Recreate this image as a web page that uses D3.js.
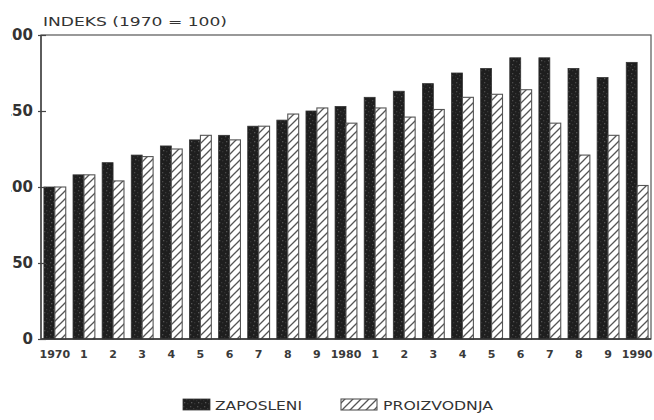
<!DOCTYPE html>
<html>
<head>
<meta charset="utf-8">
<script src="https://cdn.jsdelivr.net/npm/d3@7/dist/d3.min.js"></script>
<style>
  html, body { margin: 0; padding: 0; background: #fff; }
  svg { display: block; }
  text { font-family: "DejaVu Sans", sans-serif; fill: #2a2a2a; }
</style>
</head>
<body>
<svg id="chart" width="654" height="420"></svg>
<script>
// ---- data ----
const years = ["1970","1971","1972","1973","1974","1975","1976","1977","1978","1979",
               "1980","1981","1982","1983","1984","1985","1986","1987","1988","1989","1990"];
const yearLabels = ["1970","1","2","3","4","5","6","7","8","9",
                    "1980","1","2","3","4","5","6","7","8","9","1990"];
const zaposleni   = [100,108,116,121,127,131,134,140,144,150,153,159,163,168,175,178,185,185,178,172,182];
const proizvodnja = [100,108,104,120,125,134,131,140,148,152,142,152,146,151,159,161,164,142,121,134,101];
const yTicks = [0, 50, 100, 150, 200];
const seriesNames = ["ZAPOSLENI", "PROIZVODNJA"];
const titleText = "INDEKS  (1970 = 100)";

// ---- layout ----
const svg = d3.select("#chart");
const pL = 41, pR = 651, pT = 35, pB = 339;

const x = d3.scaleBand().domain(years).range([pL, pR]).paddingInner(0.25).paddingOuter(0.1);
const xs = d3.scaleBand().domain([0, 1]).range([0, x.bandwidth()]);
const y = d3.scaleLinear().domain([0, 200]).range([pB, pT]);

// ---- patterns ----
const defs = svg.append("defs");
const dark = defs.append("pattern").attr("id", "darkfill")
  .attr("patternUnits", "userSpaceOnUse").attr("width", 7).attr("height", 9);
dark.append("rect").attr("width", 7).attr("height", 9).attr("fill", "#1e1e1e");
[[1,1,"#4a4a4a"],[4,3,"#3a3a3a"],[2,6,"#555"],[5,7,"#333"],[0,4,"#2e2e2e"]].forEach(([a,b,c]) =>
  dark.append("rect").attr("x", a).attr("y", b).attr("width", 1.3).attr("height", 1.3).attr("fill", c));

const hatch = defs.append("pattern").attr("id", "hatch")
  .attr("patternUnits", "userSpaceOnUse").attr("width", 8).attr("height", 8);
hatch.append("rect").attr("width", 8).attr("height", 8).attr("fill", "#fff");
hatch.append("path").attr("d", "M-2,2 L2,-2 M0,8 L8,0 M6,10 L10,6")
  .attr("stroke", "#555").attr("stroke-width", 1.3);

defs.append("clipPath").attr("id", "labelclip")
  .append("rect").attr("x", 11).attr("y", 0).attr("width", 643).attr("height", 420);

// ---- frame ----
svg.append("rect").attr("x", pL).attr("y", pT)
  .attr("width", pR - pL).attr("height", pB - pT)
  .attr("fill", "none").attr("stroke", "#555").attr("stroke-width", 1.2);

// ---- bars ----
const g = svg.append("g");
years.forEach((yr, i) => {
  const x0 = x(yr);
  g.append("rect")
    .attr("x", x0 + xs(0)).attr("y", y(zaposleni[i]))
    .attr("width", xs.bandwidth()).attr("height", y(0) - y(zaposleni[i]))
    .attr("fill", "url(#darkfill)").attr("stroke", "#333").attr("stroke-width", 0.8);
  g.append("rect")
    .attr("x", x0 + xs(1)).attr("y", y(proizvodnja[i]))
    .attr("width", xs.bandwidth()).attr("height", y(0) - y(proizvodnja[i]))
    .attr("fill", "url(#hatch)").attr("stroke", "#555").attr("stroke-width", 1.1);
});

// ---- axes ----
svg.append("line").attr("x1", pL).attr("x2", pR).attr("y1", pB).attr("y2", pB)
  .attr("stroke", "#333").attr("stroke-width", 1.6);
svg.append("line").attr("x1", pL).attr("x2", pL).attr("y1", pT).attr("y2", pB)
  .attr("stroke", "#444").attr("stroke-width", 1.4);

const yAxis = d3.axisLeft(y).tickValues(yTicks).tickSize(4).tickPadding(5);
const yWrap = svg.append("g").attr("clip-path", "url(#labelclip)");
const ya = yWrap.append("g").attr("transform", `translate(${pL + 3},0)`).call(yAxis);
ya.select(".domain").remove();
ya.selectAll(".tick line").attr("stroke", "#444").attr("stroke-width", 1.2).attr("x2", -6).attr("x1", 2);
ya.selectAll(".tick text")
  .attr("x", -11)
  .style("font-size", "15px").style("font-weight", "bold").style("fill", "#333");

const xAxis = d3.axisBottom(x).tickFormat((d, i) => yearLabels[i]).tickSize(0).tickPadding(11);
const xa = svg.append("g").attr("transform", `translate(0,${pB})`).call(xAxis);
xa.select(".domain").remove();
xa.selectAll(".tick text").style("font-size", "11px").style("font-weight", "bold").style("fill", "#3a3a3a");

// ---- title ----
svg.append("text").attr("x", 43).attr("y", 26)
  .attr("textLength", 184).attr("lengthAdjust", "spacingAndGlyphs")
  .style("font-size", "12px").style("fill", "#333")
  .text(titleText);

// ---- legend ----
const lg = svg.append("g");
lg.append("rect").attr("x", 183).attr("y", 399).attr("width", 27).attr("height", 11)
  .attr("fill", "url(#darkfill)").attr("stroke", "#333").attr("stroke-width", 0.8);
lg.append("text").attr("x", 215).attr("y", 410)
  .attr("textLength", 87).attr("lengthAdjust", "spacingAndGlyphs")
  .style("font-size", "12px").style("fill", "#333").text(seriesNames[0]);
lg.append("rect").attr("x", 341).attr("y", 399).attr("width", 36).attr("height", 11)
  .attr("fill", "url(#hatch)").attr("stroke", "#555").attr("stroke-width", 1.1);
lg.append("text").attr("x", 383).attr("y", 410)
  .attr("textLength", 110).attr("lengthAdjust", "spacingAndGlyphs")
  .style("font-size", "12px").style("fill", "#333").text(seriesNames[1]);
</script>
</body>
</html>
